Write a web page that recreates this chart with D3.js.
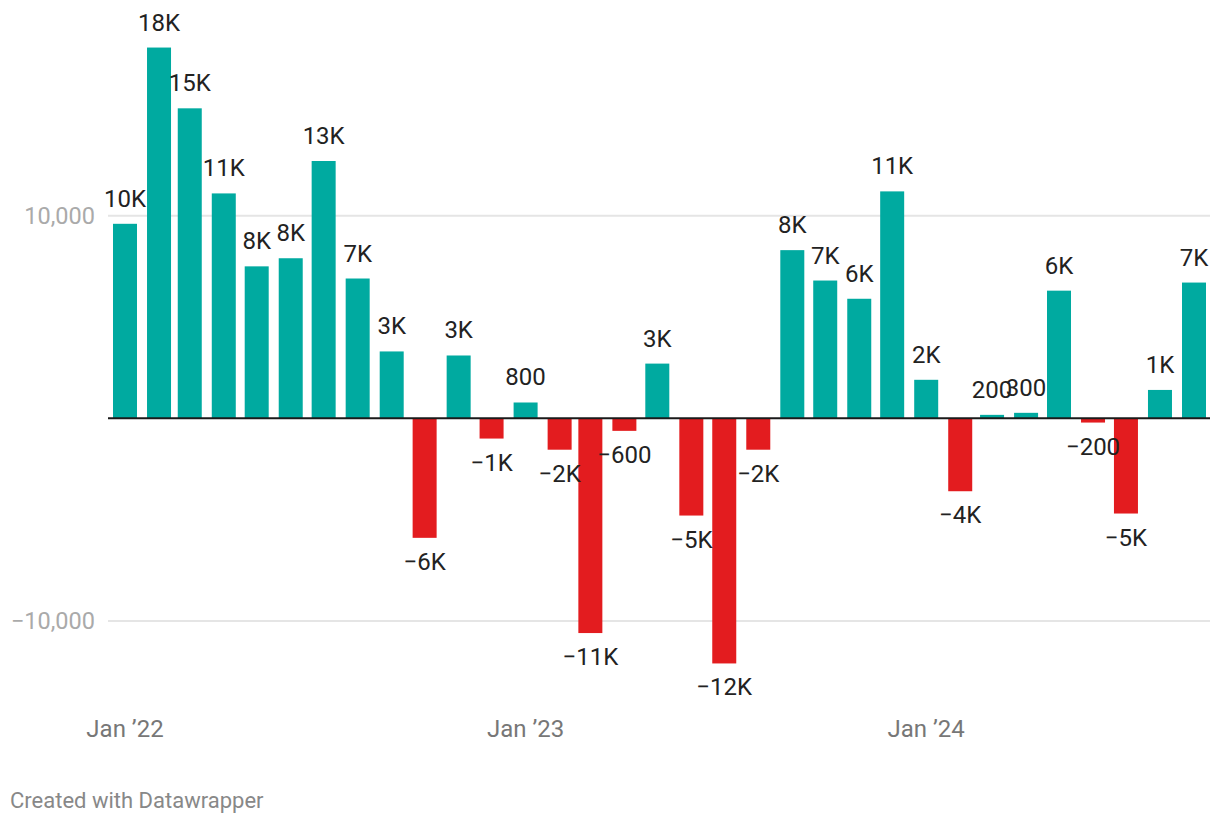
<!DOCTYPE html>
<html>
<head>
<meta charset="utf-8">
<script src="https://cdn.jsdelivr.net/npm/d3@7"></script>
<style>
  html, body { margin: 0; padding: 0; background: #fff; }
  svg { display: block; font-family: Roboto, "Noto Sans", sans-serif; }
</style>
</head>
<body>
<script>
// ---- data ----
const months = [
  "2022-01","2022-02","2022-03","2022-04","2022-05","2022-06","2022-07","2022-08","2022-09","2022-10","2022-11","2022-12",
  "2023-01","2023-02","2023-03","2023-04","2023-05","2023-06","2023-07","2023-08","2023-09","2023-10","2023-11","2023-12",
  "2024-01","2024-02","2024-03","2024-04","2024-05","2024-06","2024-07","2024-08","2024-09"
];
const values = [
  9600, 18300, 15300, 11100, 7500, 7900, 12700, 6900, 3300, -5900, 3100, -1000,
  780, -1550, -10600, -620, 2700, -4800, -12100, -1550, 8300, 6800, 5900, 11200,
  1900, -3600, 170, 270, 6300, -210, -4700, 1400, 6700
];
const yTicks = [-10000, 10000];
const xTickDates = ["2022-01-01", "2023-01-01", "2024-01-01"];
const xTickLabels = ["Jan \u201922", "Jan \u201923", "Jan \u201924"];
const footer = "Created with Datawrapper";

// ---- setup ----
const W = 1220, H = 824;
const svg = d3.select("body").append("svg").attr("width", W).attr("height", H);

const parse = d3.utcParse("%Y-%m");
const data = months.map((m, i) => ({ date: parse(m), value: values[i] }));

const x = d3.scaleUtc()
  .domain([new Date(Date.UTC(2022, 0, 1)), new Date(Date.UTC(2024, 8, 1))])
  .range([125, 1194]);
const y = d3.scaleLinear().domain([-10000, 10000]).range([620.9, 215.7]);

const left = 108, right = 1210, barW = 24;
const teal = "#00aaa0", red = "#e31c1f";

// gridlines
svg.append("g").selectAll("line").data(yTicks).join("line")
  .attr("x1", left).attr("x2", right)
  .attr("y1", d => y(d)).attr("y2", d => y(d))
  .attr("stroke", "#e5e5e5").attr("stroke-width", 2);

// y labels
const fmtAxis = d => (d < 0 ? "\u2212" : "") + d3.format(",")(Math.abs(d));
svg.append("g").selectAll("text").data(yTicks).join("text")
  .attr("x", 95).attr("y", d => y(d) + 8.5)
  .attr("text-anchor", "end")
  .attr("font-size", 23.5)
  .attr("fill", "#aaaaaa")
  .text(fmtAxis);

// bars
svg.append("g").selectAll("rect").data(data).join("rect")
  .attr("x", d => x(d.date) - barW / 2)
  .attr("width", barW)
  .attr("y", d => Math.min(y(d.value), y(0)))
  .attr("height", d => Math.abs(y(d.value) - y(0)))
  .attr("fill", d => d.value >= 0 ? teal : red);

// zero line
svg.append("line")
  .attr("x1", left).attr("x2", right)
  .attr("y1", y(0)).attr("y2", y(0))
  .attr("stroke", "#1a1a1a").attr("stroke-width", 2);

// value labels
const fmtVal = v => {
  const a = Math.abs(v);
  const s = a >= 1000 ? Math.round(a / 1000) + "K" : String(Math.round(a / 100) * 100);
  return (v < 0 ? "\u2212" : "") + s;
};
svg.append("g").selectAll("text").data(data).join("text")
  .attr("x", d => x(d.date))
  .attr("y", d => d.value >= 0 ? y(d.value) - 17 : y(d.value) + 32)
  .attr("text-anchor", "middle")
  .attr("font-size", 24)
  .attr("fill", "#222")
  .text(d => fmtVal(d.value));

// x axis labels
svg.append("g").selectAll("text").data(xTickDates).join("text")
  .attr("x", d => x(new Date(d + "T00:00:00Z")))
  .attr("y", 737)
  .attr("text-anchor", "middle")
  .attr("font-size", 24)
  .attr("fill", "#777")
  .text((d, i) => xTickLabels[i]);

// footer
svg.append("text")
  .attr("x", 10).attr("y", 808)
  .attr("font-size", 22)
  .attr("fill", "#888")
  .text(footer);
</script>
</body>
</html>
